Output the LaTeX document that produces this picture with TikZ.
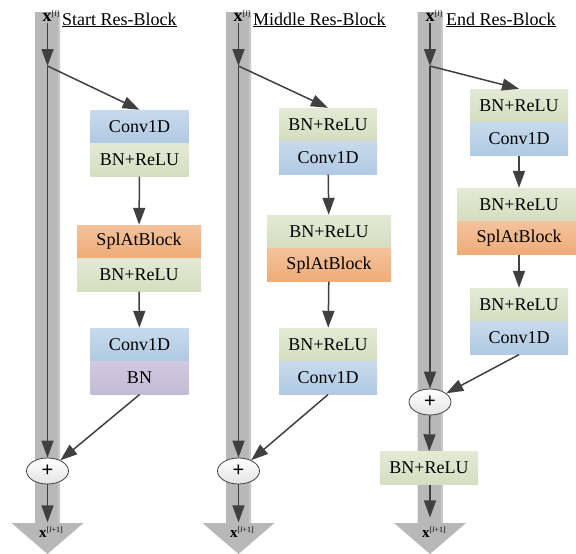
\documentclass[tikz,border=0pt]{standalone}
\usepackage{fontspec}
\setmainfont{Liberation Serif}
\newfontfamily\plusfont{Liberation Sans}
\usetikzlibrary{arrows.meta}
\usetikzlibrary{positioning}
\usetikzlibrary{shapes.geometric}

\definecolor{bandgray}{RGB}{184,184,184}
\definecolor{bandedge}{RGB}{200,200,200}
\definecolor{arrowgray}{RGB}{64,64,64}
\definecolor{convtop}{RGB}{199,218,236}
\definecolor{convbot}{RGB}{176,202,226}
\definecolor{bntop}{RGB}{228,233,213}
\definecolor{bnbot}{RGB}{213,222,192}
\definecolor{splattop}{RGB}{244,194,156}
\definecolor{splatbot}{RGB}{238,172,120}
\definecolor{bnonlytop}{RGB}{210,201,224}
\definecolor{bnonlybot}{RGB}{195,186,213}
\definecolor{addbot}{RGB}{228,228,228}

\tikzset{
  layer/.style={minimum width=98pt, minimum height=33pt, inner sep=0pt,
    font=\fontsize{18}{18}\selectfont},
  wide/.style={minimum width=124pt},
  conv/.style={layer, top color=convtop, bottom color=convbot},
  bnrelu/.style={layer, top color=bntop, bottom color=bnbot},
  splat/.style={layer, wide, top color=splattop, bottom color=splatbot},
  bnonly/.style={layer, top color=bnonlytop, bottom color=bnonlybot},
  flow/.style={draw=arrowgray, line width=1.5pt, -{Triangle[length=17pt,width=12pt]}},
  addop/.style={ellipse, draw=arrowgray, line width=0.8pt, top color=white, bottom color=addbot,
    minimum width=42pt, minimum height=26pt, inner sep=0pt,
    font=\plusfont\fontsize{20}{20}\selectfont},
  xlabel/.style={inner sep=1pt, font=\fontsize{18}{18}\selectfont},
  ylabel/.style={inner sep=0pt, font=\fontsize{15}{15}\selectfont},
  blocktitle/.style={anchor=base west, inner sep=0pt, font=\fontsize{18}{18}\selectfont}
}

\newcommand{\xin}{\textbf{x}\raisebox{0.3em}{\fontsize{8}{8}\selectfont[\textit{l}]}}
\newcommand{\xout}{\textbf{x}\raisebox{0.35em}{\fontsize{8}{8}\selectfont[\textit{l}+1]}}

\begin{document}
\begin{tikzpicture}[x=1pt, y=-1pt]
    \useasboundingbox (0,0) rectangle (576,554);

    % Draw the wide gray skip bands with their arrow heads
    \foreach \cx in {47.5,238.5,430} {
        \fill[bandgray] (\cx-12.5,12) -- (\cx+12.5,12) -- (\cx+12.5,523)
            -- (\cx+36,523) -- (\cx,554) -- (\cx-36,523) -- (\cx-12.5,523) -- cycle;
        \fill[bandedge] (\cx+10.5,12) rectangle (\cx+12.5,523);
    }

    % Start Res-Block
    \node[xlabel] (in1) at (51,16) {\xin};
    \node[blocktitle] (t1) at (62,25) {\underline{Start Res-Block}};
    \coordinate (s1) at (47.5,66);
    \node[conv] (a1) at (139.5,126.5) {Conv1D};
    \node[bnrelu, below=0pt of a1] (b1) {BN+ReLU};
    \node[splat] (c1) at (139,241.5) {SplAtBlock};
    \node[bnrelu, wide, below=0pt of c1] (d1) {BN+ReLU};
    \node[conv] (e1) at (139.5,344.5) {Conv1D};
    \node[bnonly, below=0pt of e1] (f1) {BN};
    \node[addop] (p1) at (47.5,471) {+};
    \node[ylabel] (out1) at (51,532) {\xout};

    \draw[flow] (in1.south -| s1) -- (s1);
    \draw[flow] (s1) -- (p1);
    \draw[flow] (s1) -- (a1.north);
    \draw[flow] (b1) -- (c1);
    \draw[flow] (d1) -- (e1);
    \draw[flow] (f1.south) -- (p1);
    \draw[flow, shorten >=4pt] (p1) -- (out1.north -| p1);

    % Middle Res-Block
    \node[xlabel] (in2) at (242,16) {\xin};
    \node[blocktitle] (t2) at (253,25) {\underline{Middle Res-Block}};
    \coordinate (s2) at (238.5,66);
    \node[bnrelu] (a2) at (328,124.5) {BN+ReLU};
    \node[conv, below=0pt of a2] (b2) {Conv1D};
    \node[bnrelu, wide] (c2) at (329,231.5) {BN+ReLU};
    \node[splat, below=0pt of c2] (d2) {SplAtBlock};
    \node[bnrelu] (e2) at (328,344.5) {BN+ReLU};
    \node[conv, below=0pt of e2] (f2) {Conv1D};
    \node[addop] (p2) at (238.5,471) {+};
    \node[ylabel] (out2) at (242,532) {\xout};

    \draw[flow] (in2.south -| s2) -- (s2);
    \draw[flow] (s2) -- (p2);
    \draw[flow] (s2) -- (a2.north);
    \draw[flow] (b2) -- (c2);
    \draw[flow] (d2) -- (e2);
    \draw[flow] (f2.south) -- (p2);
    \draw[flow, shorten >=4pt] (p2) -- (out2.north -| p2);

    % End Res-Block
    \node[xlabel] (in3) at (434,16) {\xin};
    \node[blocktitle] (t3) at (446,25) {\underline{End Res-Block}};
    \coordinate (s3) at (430,66);
    \node[bnrelu] (a3) at (519,105.5) {BN+ReLU};
    \node[conv, below=0pt of a3] (b3) {Conv1D};
    \node[bnrelu, wide] (c3) at (519,204.5) {BN+ReLU};
    \node[splat, below=0pt of c3] (d3) {SplAtBlock};
    \node[bnrelu] (e3) at (519,304.5) {BN+ReLU};
    \node[conv, below=0pt of e3] (f3) {Conv1D};
    \node[addop] (p3) at (430,402) {+};
    \node[bnrelu] (g3) at (429,468) {BN+ReLU};
    \node[ylabel] (out3) at (434,532) {\xout};

    \draw[flow] (in3.south -| s3) -- (s3);
    \draw[flow] (s3) -- (p3);
    \draw[flow] (s3) -- (a3.north);
    \draw[flow] (b3) -- (c3);
    \draw[flow] (d3) -- (e3);
    \draw[flow] (f3.south) -- (p3);
    \draw[flow] (p3) -- (g3);
    \draw[flow, shorten >=9pt] (g3.south -| p3) -- (out3.north -| p3);
\end{tikzpicture}
\end{document}
